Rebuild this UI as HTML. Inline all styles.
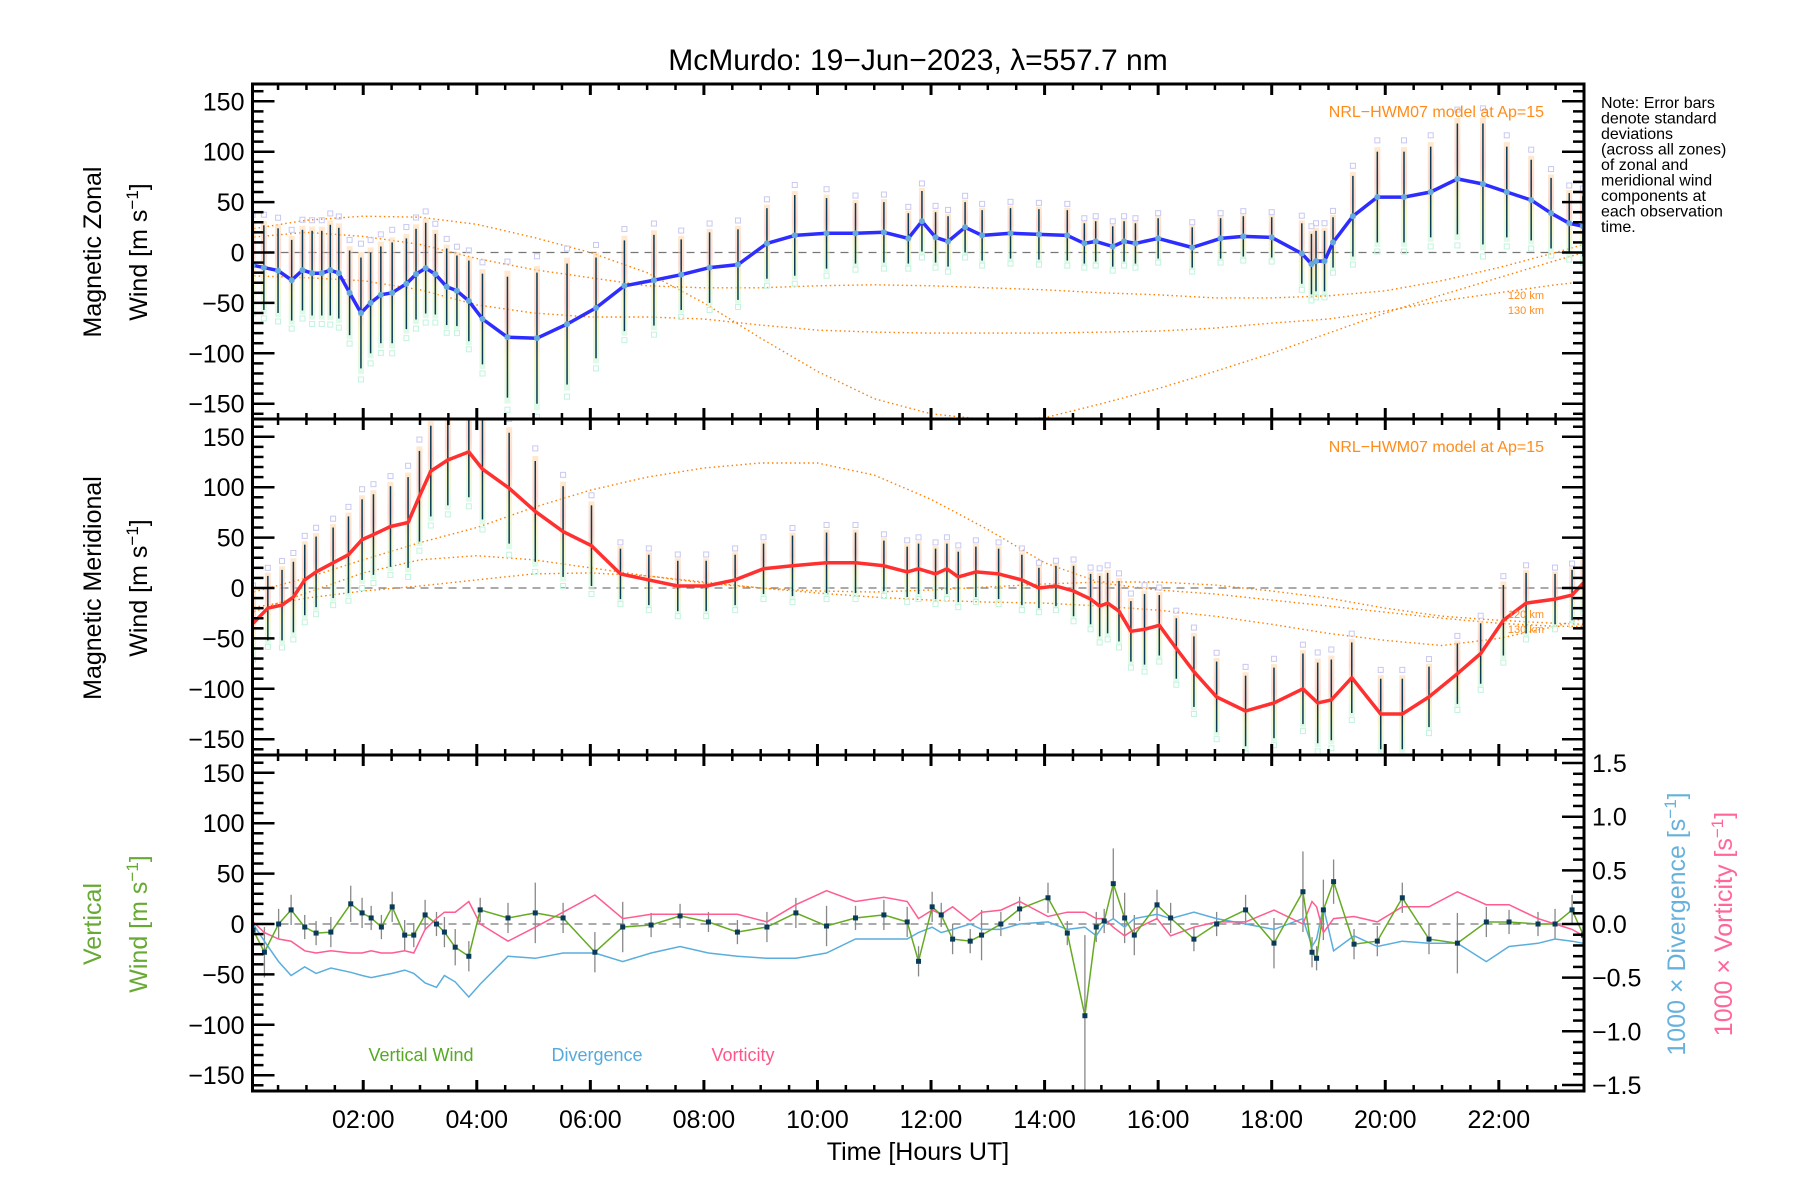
<!DOCTYPE html>
<html><head><meta charset="utf-8">
<style>
html,body{margin:0;padding:0;background:#fff;}
svg{display:block;font-family:"Liberation Sans",sans-serif;}
</style></head>
<body>
<svg id="chart" width="1800" height="1200" viewBox="0 0 1800 1200" xmlns="http://www.w3.org/2000/svg">
<defs>
<clipPath id="c1"><rect x="252.5" y="84" width="1331.5" height="335"/></clipPath>
<clipPath id="c2"><rect x="252.5" y="419" width="1331.5" height="336"/></clipPath>
<clipPath id="c3"><rect x="252.5" y="755" width="1331.5" height="336"/></clipPath>
<linearGradient id="band" x1="0" y1="0" x2="0" y2="1">
<stop offset="0" stop-color="#ffd7a8"/><stop offset="0.35" stop-color="#ffb7a8"/><stop offset="0.65" stop-color="#f4f0a0"/><stop offset="1" stop-color="#c4f7d8"/>
</linearGradient>
</defs>
<text x="918" y="70" text-anchor="middle" font-size="30">McMurdo: 19−Jun−2023, λ=557.7 nm</text>
<g id="g1" clip-path="url(#c1)"></g>
<g id="g2" clip-path="url(#c2)"></g>
<g id="g3" clip-path="url(#c3)"></g>
<g id="axes"></g>
<text x="1544" y="117" text-anchor="end" font-size="16" fill="#ff8c1a">NRL−HWM07 model at Ap=15</text>
<text x="1544" y="452" text-anchor="end" font-size="16" fill="#ff8c1a">NRL−HWM07 model at Ap=15</text>
<text x="1544" y="299" text-anchor="end" font-size="11" fill="#ff8c1a">120 km</text>
<text x="1544" y="314" text-anchor="end" font-size="11" fill="#ff8c1a">130 km</text>
<text x="1544" y="618" text-anchor="end" font-size="11" fill="#ff8c1a">120 km</text>
<text x="1544" y="633" text-anchor="end" font-size="11" fill="#ff8c1a">130 km</text>
<g font-size="16">
<text x="1601" y="108">Note: Error bars</text>
<text x="1601" y="123.5">denote standard</text>
<text x="1601" y="139">deviations</text>
<text x="1601" y="154.5">(across all zones)</text>
<text x="1601" y="170">of zonal and</text>
<text x="1601" y="185.5">meridional wind</text>
<text x="1601" y="201">components at</text>
<text x="1601" y="216.5">each observation</text>
<text x="1601" y="232">time.</text>
</g>
<g font-size="25">
<text transform="translate(101,252) rotate(-90)" text-anchor="middle">Magnetic Zonal</text>
<text transform="translate(147,252) rotate(-90)" text-anchor="middle">Wind [m s<tspan dy="-9" font-size="17">−1</tspan><tspan dy="9">]</tspan></text>
<text transform="translate(101,588) rotate(-90)" text-anchor="middle">Magnetic Meridional</text>
<text transform="translate(147,588) rotate(-90)" text-anchor="middle">Wind [m s<tspan dy="-9" font-size="17">−1</tspan><tspan dy="9">]</tspan></text>
<text transform="translate(101,924) rotate(-90)" text-anchor="middle" fill="#66aa33">Vertical</text>
<text transform="translate(147,924) rotate(-90)" text-anchor="middle" fill="#66aa33">Wind [m s<tspan dy="-9" font-size="17">−1</tspan><tspan dy="9">]</tspan></text>
<text transform="translate(1685,924) rotate(-90)" text-anchor="middle" fill="#66b2dd">1000 × Divergence [s<tspan dy="-9" font-size="17">−1</tspan><tspan dy="9">]</tspan></text>
<text transform="translate(1732,924) rotate(-90)" text-anchor="middle" fill="#ff6699">1000 × Vorticity [s<tspan dy="-9" font-size="17">−1</tspan><tspan dy="9">]</tspan></text>
</g>
<text x="421" y="1061" text-anchor="middle" font-size="18" fill="#55aa22">Vertical Wind</text>
<text x="597" y="1061" text-anchor="middle" font-size="18" fill="#55aadd">Divergence</text>
<text x="743" y="1061" text-anchor="middle" font-size="18" fill="#ff5588">Vorticity</text>
<text x="918" y="1160" text-anchor="middle" font-size="25">Time [Hours UT]</text>
</svg>
<script>
// ---- data ----
const zonT=[0.05,0.25,0.5,0.74,0.93,1.1,1.27,1.42,1.57,1.76,1.96,2.13,2.31,2.51,2.76,2.93,3.1,3.27,3.47,3.65,3.86,4.1,4.54,5.06,5.59,6.1,6.6,7.12,7.6,8.1,8.6,9.11,9.6,10.16,10.67,11.17,11.6,11.84,12.08,12.3,12.6,12.9,13.4,13.9,14.4,14.7,14.9,15.2,15.4,15.6,16.0,16.6,17.1,17.5,18.0,18.53,18.7,18.78,18.93,19.08,19.43,19.86,20.33,20.8,21.27,21.72,22.14,22.57,22.92,23.24,23.48];
const zonV=[-12.6,-15,-18,-27.5,-17.5,-20.5,-20.5,-17.5,-20.5,-40,-60,-50,-42,-40,-31,-21.5,-15.5,-21.5,-34,-38,-48,-66,-84,-85,-71,-55,-33,-27.5,-22,-15,-12,9,17,19,19,20,14,31,15,11,25,17,19,18,17,9,11,6,11,9,14,5,14,16,15,-1,-11.5,-8.5,-8.5,10,36,55,55,60,73,68,60,52,39,29,26];
const zonSD=[40,42,42,40,40,42,42,45,45,42,55,50,48,50,45,45,45,40,38,35,40,45,60,65,60,50,45,45,35,35,35,35,40,35,30,30,25,30,25,25,25,25,25,25,25,20,20,20,20,20,20,20,20,20,20,30,30,30,30,25,40,45,45,45,55,60,45,40,35,30,30];
const merT=[0.06,0.32,0.57,0.77,0.97,1.17,1.47,1.74,1.98,2.18,2.48,2.79,2.99,3.19,3.49,3.86,4.1,4.57,5.03,5.52,6.02,6.53,7.03,7.54,8.04,8.55,9.05,9.56,10.16,10.67,11.17,11.58,11.78,12.08,12.28,12.48,12.79,13.19,13.6,13.9,14.2,14.51,14.81,14.97,15.11,15.31,15.52,15.76,16.02,16.32,16.63,17.03,17.54,18.04,18.55,18.81,19.05,19.41,19.92,20.3,20.77,21.27,21.68,22.08,22.48,22.99,23.29,23.49];
const merV=[-35,-20,-17,-9,8,16,25,33,48,53,61,65,91,116,127,135,118,99,76,56,42,14,8,2,2,8,19,22,25,25,22,16,19,14,19,11,16,14,8,0,2,-3,-11,-18,-15,-23,-43,-41,-37,-60,-83,-108,-122,-114,-100,-114,-111,-89,-125,-125,-108,-85,-65,-32,-15,-11,-7,5];
const merSD=[30,32,35,35,35,35,35,38,40,40,40,45,45,45,45,45,50,55,50,45,40,25,25,25,25,25,25,30,30,30,25,25,25,25,25,25,25,25,25,20,20,25,25,30,30,30,30,35,30,30,35,35,35,35,35,40,40,35,35,35,30,30,30,35,30,25,25,25];
const vT=[0.06,0.26,0.51,0.73,0.97,1.17,1.43,1.78,1.98,2.14,2.32,2.51,2.73,2.89,3.09,3.29,3.43,3.62,3.86,4.06,4.55,5.03,5.52,6.08,6.57,7.07,7.58,8.08,8.59,9.11,9.62,10.16,10.67,11.17,11.58,11.78,12.02,12.18,12.38,12.69,12.89,13.23,13.56,14.06,14.4,14.71,14.91,15.05,15.21,15.41,15.58,15.98,16.22,16.63,17.03,17.54,18.04,18.55,18.71,18.79,18.91,19.09,19.45,19.86,20.3,20.77,21.27,21.78,22.18,22.69,22.99,23.29,23.49];
const vV=[-6,-28,0,14,-3,-9,-8,20,11,6,-3,17,-11,-11,9,0,-8,-23,-32,14,6,11,6,-28,-3,-1,8,2,-8,-3,11,-2,6,9,2,-37,17,9,-15,-17,-11,0,15,26,-9,-91,-3,3,40,6,-11,19,6,-15,0,14,-19,32,-28,-34,14,42,-20,-17,26,-15,-19,2,2,0,0,14,-11];
const vErr=[20,25,15,15,12,12,15,18,15,12,12,15,15,12,15,12,15,18,15,12,15,30,15,20,25,12,12,10,12,15,15,20,12,15,15,15,15,12,15,12,25,12,12,15,12,80,15,12,35,25,20,15,15,12,12,15,25,40,15,12,30,22,15,15,15,15,30,15,12,12,15,15,12];
const divV=[0,-0.16,-0.35,-0.48,-0.40,-0.46,-0.41,-0.45,-0.48,-0.50,-0.48,-0.46,-0.43,-0.46,-0.55,-0.59,-0.48,-0.54,-0.68,-0.56,-0.30,-0.32,-0.27,-0.27,-0.35,-0.27,-0.21,-0.27,-0.30,-0.32,-0.32,-0.27,-0.14,-0.14,-0.14,-0.08,-0.03,-0.08,-0.05,0,-0.05,-0.05,0,0.02,-0.05,-0.03,-0.11,0,0.05,-0.03,0.05,0.09,0.05,0.11,0.05,0,-0.05,0.05,-0.21,-0.14,0.16,-0.25,-0.11,-0.21,-0.16,-0.18,-0.18,-0.35,-0.21,-0.18,-0.14,-0.16,-0.18];
const vorV=[0.02,-0.08,-0.14,-0.16,-0.25,-0.27,-0.25,-0.27,-0.27,-0.25,-0.27,-0.27,-0.25,-0.27,-0.05,0.05,0.11,0.11,0.21,0,-0.16,-0.03,0.11,0.27,0.05,0.09,0.09,0.09,0.09,0.02,0.18,0.31,0.21,0.25,0.21,0.05,0.13,0.09,0.16,0.03,0.11,0.13,0.21,0.07,0.11,0.11,0.05,0.05,-0.03,-0.11,-0.05,0.05,-0.11,-0.03,0.02,0.02,0.13,0,0.21,0.16,-0.08,0.05,0.07,0.02,0.16,0.16,0.3,0.18,0.18,0.05,0,-0.05,-0.11];
const modelT=[0,1,2,3,4,5,6,7,8,9,10,11,12,13,14,15,16,17,18,19,20,21,22,23,23.5];
const zonM1=[23,32,36,35,28,15,0,-20,-50,-85,-118,-145,-160,-166,-164,-150,-135,-118,-100,-80,-60,-42,-25,-8,0];
const zonM2=[15,20,16,8,-6,-17,-25,-33,-35,-35,-33,-32,-33,-35,-37,-40,-42,-45,-45,-43,-38,-28,-15,0,8];
const zonM3=[-23,-25,-28,-37,-52,-60,-64,-64,-66,-72,-77,-79,-80,-80,-80,-79,-78,-75,-70,-66,-58,-48,-40,-32,-29];
const merM1=[-5,10,28,45,60,80,97,110,119,124,124,112,88,58,25,5,-2,-6,-12,-18,-24,-30,-35,-38,-38];
const merM2=[-25,-5,15,28,32,28,20,12,5,0,-3,-4,-2,1,4,6,6,3,-3,-10,-20,-28,-32,-35,-36];
const merM3=[-20,-10,-3,2,8,14,15,12,6,0,-5,-9,-12,-14,-15,-18,-22,-28,-36,-45,-52,-57,-50,-38,-30];
const xTickHours=[2,4,6,8,10,12,14,16,18,20,22];
const xTickLabels=["02:00","04:00","06:00","08:00","10:00","12:00","14:00","16:00","18:00","20:00","22:00"];
const yTicks=[150,100,50,0,-50,-100,-150];
const rTicks=[1.5,1.0,0.5,0.0,-0.5,-1.0,-1.5];

// ---- scales ----
const L=252.5,R=1584,T0=0.05,T1=23.5;
const panels=[{top:84,bot:419,zero:252.5},{top:419,bot:755,zero:588},{top:755,bot:1091,zero:924}];
const KY=1.008, KR=107.3;
function X(t){return L+(t-T0)*(R-L)/(T1-T0);}
function Y(p,v){return panels[p].zero-v*KY;}
function YR(d){return panels[2].zero-d*KR;}
const NS="http://www.w3.org/2000/svg";
function mk(parent,tag,attrs){const e=document.createElementNS(NS,tag);for(const k in attrs)e.setAttribute(k,attrs[k]);parent.appendChild(e);return e;}
function poly(ts,vs,fy){return ts.map((t,i)=>X(t).toFixed(1)+","+fy(vs[i]).toFixed(1)).join(" ");}

const g1=document.getElementById('g1'),g2=document.getElementById('g2'),g3=document.getElementById('g3'),ax=document.getElementById('axes');

[g1,g2,g3].forEach((g,p)=>{const l=mk(g,'line',{x1:L,x2:R,y1:Y(p,0),y2:Y(p,0),stroke:'#777','stroke-width':1.3,'stroke-dasharray':'8 6'});

});

function model(g,p,arr,name){const e=mk(g,'polyline',{points:poly(modelT,arr,v=>Y(p,v)),fill:'none',stroke:'#ff8000','stroke-width':1.4,'stroke-dasharray':'1.5 3'});

}
model(g1,0,zonM1,'model-zonal-1');model(g1,0,zonM2,'model-zonal-2');model(g1,0,zonM3,'model-zonal-3');
model(g2,1,merM1,'model-merid-1');model(g2,1,merM2,'model-merid-2');model(g2,1,merM3,'model-merid-3');

function bars(g,p,ts,vs,sd,name){ts.forEach((t,i)=>{const s=sd[i]||30,x=X(t);
const b=mk(g,'rect',{x:x-3,y:Y(p,vs[i]+s*1.1),width:6,height:s*2.2*KY,fill:'url(#band)',opacity:0.55});


const q1=mk(g,'rect',{x:x-2.5,y:Y(p,vs[i]+s*1.25)-2.5,width:5,height:5,fill:'none',stroke:'#c8c8f2','stroke-width':1});


const q2=mk(g,'rect',{x:x-2.5,y:Y(p,vs[i]-s*1.2)-2.5,width:5,height:5,fill:'none',stroke:'#c0f4dc','stroke-width':1});


const l=mk(g,'line',{x1:x,x2:x,y1:Y(p,vs[i]+s),y2:Y(p,vs[i]-s),stroke:'#0a3a55','stroke-width':1.5});

});}
bars(g1,0,zonT,zonV,zonSD,'zonal');
bars(g2,1,merT,merV,merSD,'merid');

const zl=mk(g1,'polyline',{points:poly(zonT,zonV,v=>Y(0,v)),fill:'none',stroke:'#2d2dff','stroke-width':3.5,'stroke-linejoin':'round'});


zonT.forEach((t,i)=>{const c=mk(g1,'circle',{cx:X(t),cy:Y(0,zonV[i]),r:3,fill:'#66aadd'});

});
const ml=mk(g2,'polyline',{points:poly(merT,merV,v=>Y(1,v)),fill:'none',stroke:'#ff3030','stroke-width':3.5,'stroke-linejoin':'round'});



vT.forEach((t,i)=>{const x=X(t);const l=mk(g3,'line',{x1:x,x2:x,y1:Y(2,vV[i]+vErr[i]),y2:Y(2,vV[i]-vErr[i]),stroke:'#888','stroke-width':1.3});

});
const dl=mk(g3,'polyline',{points:poly(vT,divV,YR),fill:'none',stroke:'#5aaedd','stroke-width':1.5});


const ol=mk(g3,'polyline',{points:poly(vT,vorV,YR),fill:'none',stroke:'#ff5c8f','stroke-width':1.5});


const vl=mk(g3,'polyline',{points:poly(vT,vV,v=>Y(2,v)),fill:'none',stroke:'#66aa22','stroke-width':1.5});


vT.forEach((t,i)=>{const r=mk(g3,'rect',{x:X(t)-2.5,y:Y(2,vV[i])-2.5,width:5,height:5,fill:'#0a3a5a'});

});

panels.forEach((pn,p)=>{
const box=mk(ax,'rect',{x:L,y:pn.top,width:R-L,height:pn.bot-pn.top,fill:'none',stroke:'#000','stroke-width':3});


for(let h=0.5;h<T1;h+=0.5){const x=X(h);const major=(h%2===0);const len=major?11:6;
mk(ax,'line',{x1:x,x2:x,y1:pn.bot,y2:pn.bot-len,stroke:'#000','stroke-width':major?3:2.5});
mk(ax,'line',{x1:x,x2:x,y1:pn.top,y2:pn.top+len,stroke:'#000','stroke-width':major?3:2.5});}
for(let v=-160;v<=160;v+=10){const y=Y(p,v);if(y<pn.top+1||y>pn.bot-1)continue;const major=(v%50===0);const len=major?22:11;
mk(ax,'line',{x1:L,x2:L+len,y1:y,y2:y,stroke:'#000','stroke-width':2.5});
if(p<2)mk(ax,'line',{x1:R,x2:R-len,y1:y,y2:y,stroke:'#000','stroke-width':2.5});}
yTicks.forEach(v=>{const t=mk(ax,'text',{x:L-8,y:Y(p,v)+9,'text-anchor':'end','font-size':25});t.textContent=String(v).replace('-','−');

});
});
for(let d=-1.5;d<=1.5001;d+=0.1){const y=YR(d);const major=Math.abs(Math.round(d*10)%5)===0;const len=major?22:11;
mk(ax,'line',{x1:R,x2:R-len,y1:y,y2:y,stroke:'#000','stroke-width':2.5});}
rTicks.forEach(d=>{const t=mk(ax,'text',{x:R+8,y:YR(d)+9,'font-size':25});t.textContent=d.toFixed(1).replace('-','−');

});
xTickHours.forEach((h,i)=>{const t=mk(ax,'text',{x:X(h),y:1128,'text-anchor':'middle','font-size':25});t.textContent=xTickLabels[i];

});
</script>
</body></html>
